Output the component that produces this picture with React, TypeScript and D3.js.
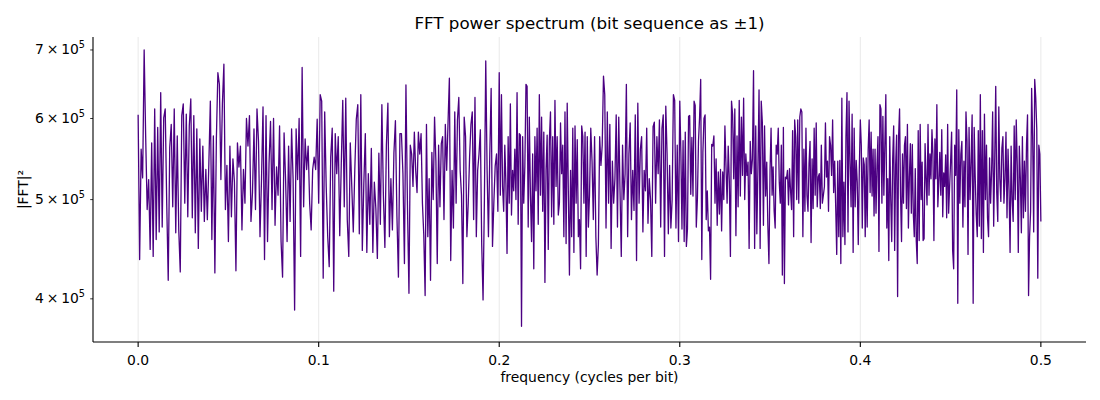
import React from 'react';
import * as d3 from 'd3';

// |FFT|^2 values in units of 1e5, one array per 0.05 band of frequency
const band00 = [6.05, 4.37, 5.60, 5.25, 7.00, 5.77, 4.89, 5.23, 4.47, 5.68, 4.40, 6.13, 4.57, 5.88, 4.65, 6.36, 4.70, 6.01, 6.13, 4.96, 4.17, 5.62, 5.92, 4.92, 6.13, 4.64, 5.77, 4.67, 4.25, 6.04, 6.20, 4.96, 6.06, 4.81, 5.90, 6.27, 4.80, 6.04, 4.64, 5.86, 4.48, 5.73, 4.87, 5.64, 4.76, 5.35, 4.78, 5.42, 6.24, 4.57, 5.77, 4.24, 5.73, 6.65, 6.48, 5.23, 6.20, 6.78, 4.89, 5.40];
const band05 = [4.55, 5.64, 4.81, 5.48, 5.20, 4.26, 5.68, 5.38, 5.64, 4.67, 5.35, 4.96, 6.00, 5.64, 6.04, 4.76, 5.08, 5.86, 4.89, 6.13, 5.70, 4.60, 5.23, 6.16, 4.37, 6.04, 4.55, 5.42, 5.96, 4.89, 6.00, 4.72, 5.38, 5.05, 5.90, 4.55, 4.20, 5.81, 5.23, 4.55, 5.64, 4.76, 5.86, 5.23, 3.90, 5.86, 5.23, 6.00, 4.40, 6.73, 4.92, 5.73, 5.35, 5.64, 4.96, 4.67, 5.35, 5.50, 5.35, 5.99];
const band10 = [4.96, 6.33, 6.24, 4.19, 6.09, 5.15, 4.60, 4.30, 5.50, 5.87, 4.07, 5.80, 5.30, 5.76, 4.61, 5.40, 6.25, 4.92, 6.28, 4.78, 4.40, 5.68, 5.15, 4.65, 5.34, 5.99, 6.19, 4.63, 6.33, 4.46, 5.18, 5.80, 4.44, 5.30, 4.73, 5.61, 4.44, 5.20, 4.90, 4.38, 5.55, 4.73, 6.19, 5.05, 4.49, 5.65, 6.21, 4.60, 5.24, 4.67, 5.55, 5.97, 4.82, 4.20, 5.80, 5.80, 5.30, 4.33, 6.47, 4.94];
const band15 = [4.05, 5.65, 5.54, 5.15, 5.82, 5.34, 5.08, 5.82, 5.54, 5.80, 4.96, 4.62, 4.03, 5.92, 4.60, 5.24, 4.17, 5.56, 5.00, 6.02, 5.45, 4.33, 5.65, 4.92, 5.67, 5.76, 4.78, 5.92, 5.34, 5.94, 6.57, 4.36, 5.34, 4.69, 6.09, 4.96, 5.98, 6.29, 5.34, 5.05, 4.14, 6.02, 5.76, 4.60, 4.96, 5.50, 5.92, 6.09, 4.78, 6.29, 4.60, 5.34, 5.54, 5.85, 4.52, 3.99, 5.00, 6.83, 5.34, 4.60, 5.54, 6.42, 4.50, 4.96, 5.39, 5.54, 4.87];
const band20 = [6.65, 5.05, 6.33, 5.15, 4.87, 5.65, 5.18, 4.43, 5.76, 4.96, 6.20, 4.83, 5.34, 5.10, 5.60, 5.00, 6.36, 4.73, 5.80, 5.78, 3.76, 5.76, 4.96, 5.39, 6.48, 6.45, 4.70, 6.02, 5.05, 4.55, 5.54, 4.28, 5.76, 5.10, 5.87, 4.73, 6.33, 5.05, 6.02, 4.87, 5.82, 4.15, 5.34, 5.78, 4.47, 5.72, 6.09, 4.81, 5.76, 4.73, 6.25, 5.15, 5.76, 4.83, 4.96, 5.94, 5.30, 5.65, 4.60, 6.09, 4.53, 6.21, 5.10, 4.22, 5.34, 4.60, 5.87, 4.44, 5.90, 4.96, 5.72, 4.60, 4.78, 4.28, 5.90, 5.76, 4.96, 5.82, 4.40, 5.76, 4.70];
const band25 = [5.05, 5.87, 5.45, 4.78, 5.76, 4.60, 4.22, 4.52, 5.76, 5.40, 5.65, 6.60, 6.33, 4.69, 6.09, 4.96, 5.92, 4.48, 5.45, 4.96, 5.24, 6.05, 4.70, 6.02, 5.10, 4.40, 5.65, 5.00, 5.30, 6.48, 4.60, 5.54, 5.94, 4.78, 5.34, 4.88, 6.05, 4.36, 6.21, 4.96, 5.60, 5.76, 4.65, 5.34, 5.10, 5.87, 4.74, 5.24, 5.00, 4.40, 5.89, 5.95, 4.96, 5.76, 5.30, 5.98, 4.70, 5.87, 6.05, 4.40, 6.17, 5.55, 4.63, 5.40, 4.69, 5.00, 6.33, 6.25, 4.69, 5.65, 4.55];
const band30 = [6.24, 5.56, 4.68, 5.71, 4.55, 5.82, 4.50, 4.68, 6.03, 6.04, 5.06, 5.75, 5.04, 6.24, 6.18, 4.70, 5.00, 5.70, 6.02, 6.55, 4.37, 5.56, 6.00, 6.05, 4.78, 5.10, 4.66, 4.70, 4.18, 5.66, 5.64, 5.77, 4.96, 5.48, 4.72, 5.32, 4.84, 5.35, 4.66, 5.32, 5.00, 5.90, 5.38, 4.96, 5.64, 5.22, 4.40, 6.24, 6.05, 5.24, 6.13, 4.61, 5.77, 4.92, 6.25, 5.04, 6.02, 5.28, 6.28, 5.00, 5.54, 5.28, 5.44, 4.48, 5.70, 5.30, 5.48, 6.68, 4.48, 5.90, 4.63, 5.38, 6.40, 4.48, 6.24, 5.95, 4.72, 5.90, 5.04, 5.44, 4.72, 4.33];
const band35 = [5.34, 5.87, 5.05, 5.38, 4.87, 4.69, 5.65, 5.54, 5.87, 5.20, 4.96, 5.65, 4.22, 5.88, 4.14, 5.26, 5.24, 5.34, 4.94, 5.36, 5.10, 4.89, 5.84, 4.60, 5.98, 5.76, 5.00, 5.98, 4.96, 6.02, 6.13, 6.09, 4.60, 5.60, 4.87, 5.87, 5.05, 4.87, 5.42, 5.70, 4.54, 5.48, 4.90, 5.87, 5.05, 5.94, 4.92, 5.26, 5.30, 4.90, 5.65, 4.96, 5.05, 5.15, 5.94, 5.26, 5.45, 4.87, 5.76, 5.65, 5.28, 5.98, 5.08, 5.45, 4.92, 4.42, 5.45, 4.60, 5.46, 4.33, 6.28, 4.60, 5.20, 4.52, 5.76, 6.36, 4.65, 6.24, 5.45, 4.92, 6.06, 4.44, 5.87, 4.92, 5.46, 5.20, 4.52, 5.34];
const band40 = [5.98, 5.65, 4.69, 5.49, 5.41, 4.60, 5.49, 4.70, 5.60, 5.98, 5.08, 5.82, 5.04, 5.60, 4.82, 5.60, 4.85, 5.40, 5.76, 4.45, 6.19, 6.13, 4.96, 6.03, 5.05, 5.66, 6.33, 4.69, 5.24, 4.36, 5.76, 5.00, 4.55, 5.48, 5.90, 4.46, 5.40, 5.78, 4.02, 5.76, 6.13, 5.04, 4.55, 5.54, 4.96, 5.65, 5.76, 4.90, 5.92, 4.69, 5.26, 5.67, 4.85, 5.66, 4.85, 4.60, 5.36, 4.56, 4.33, 5.84, 4.56, 5.92, 5.00, 5.44, 4.56, 4.58, 5.67, 5.24, 4.94, 5.92, 5.05, 5.54, 5.24, 5.85, 5.54, 4.56, 5.73, 5.24, 6.19, 4.92, 5.20, 5.56, 5.05, 5.85, 4.81, 5.31, 5.15, 5.53, 4.80, 5.92, 4.85, 5.15];
const band45 = [5.44, 5.82, 4.46, 4.28, 5.65, 5.28, 6.40, 3.96, 5.85, 4.96, 5.54, 5.70, 4.70, 5.45, 4.92, 6.09, 5.70, 4.42, 5.88, 5.00, 5.45, 6.05, 3.96, 5.88, 5.26, 4.83, 4.60, 5.84, 4.71, 6.33, 4.58, 5.84, 4.44, 6.06, 5.00, 5.65, 4.80, 4.60, 5.49, 4.96, 5.34, 6.09, 4.71, 5.45, 6.45, 5.08, 4.76, 6.16, 5.24, 4.98, 5.61, 5.76, 4.96, 5.24, 5.82, 4.80, 5.60, 5.11, 4.44, 5.64, 5.00, 4.76, 5.90, 5.00, 5.98, 5.40, 4.44, 5.64, 5.25, 4.64, 5.76, 4.80, 5.45, 4.87, 5.65, 6.05, 4.03, 4.60, 4.87, 6.42, 5.76, 4.65, 6.55, 6.29, 5.86, 4.19, 5.65, 5.54, 4.76];

const bands = [band00, band05, band10, band15, band20, band25, band30, band35, band40, band45];
const bandWidth = 0.05;

const xTicks = [0, 0.1, 0.2, 0.3, 0.4, 0.5];
const yTicks = [4, 5, 6, 7];

type Pt = { f: number; p: number };

const points: Pt[] = [];
bands.forEach((band, k) => {
  const last = k === bands.length - 1;
  band.forEach((v, j) => {
    const f = k * bandWidth + (bandWidth * j) / (last ? band.length - 1 : band.length);
    points.push({ f, p: v * 1e5 });
  });
});

const W = 1100;
const H = 400;
const left = 93;
const right = 1086;
const top = 37;
const bottom = 342;
const font = 'DejaVu Sans, sans-serif';

export default function App() {
  const x = d3.scaleLinear().domain([-0.025, 0.525]).range([left, right]);
  const y = d3.scaleLog().domain([3.63e5, 7.207e5]).range([bottom, top]);

  const line = d3.line<Pt>()
    .x(d => x(d.f))
    .y(d => y(d.p));

  return (
    <svg width={W} height={H} style={{ position: 'absolute', left: 0, top: 0, background: '#fff' }} fontFamily={font}>
      {/* vertical grid */}
      {xTicks.map(t => (
        <line key={'g' + t} x1={x(t)} x2={x(t)} y1={top} y2={bottom} stroke="#b0b0b0" strokeOpacity={0.35} strokeWidth={0.8} />
      ))}

      <path d={line(points) ?? ''} fill="none" stroke="#4b0082" strokeWidth={1.3} strokeLinejoin="round" />

      {/* spines */}
      <line x1={left} x2={left} y1={top} y2={bottom} stroke="#000" strokeWidth={1.1} />
      <line x1={left} x2={right} y1={bottom} y2={bottom} stroke="#000" strokeWidth={1.1} />

      {/* x axis */}
      {xTicks.map(t => (
        <g key={'x' + t}>
          <line x1={x(t)} x2={x(t)} y1={bottom} y2={bottom + 4.9} stroke="#000" strokeWidth={1.1} />
          <text x={x(t)} y={bottom + 22.5} textAnchor="middle" fontSize={13.9} fill="#000">{t.toFixed(1)}</text>
        </g>
      ))}
      <text x={(left + right) / 2} y={382} textAnchor="middle" fontSize={13.9} fill="#000">frequency (cycles per bit)</text>

      {/* y axis, log minor ticks labelled */}
      {yTicks.map(t => {
        const yy = y(t * 1e5);
        return (
          <g key={'y' + t}>
            <line x1={left - 2.8} x2={left} y1={yy} y2={yy} stroke="#000" strokeWidth={0.8} />
            <text x={left - 8} y={yy + 4.5} textAnchor="end" fontSize={13.9} fill="#000">
              {t}{'\u2009×\u200910'}
              <tspan fontSize={9.7} dy={-6}>5</tspan>
            </text>
          </g>
        );
      })}
      <text transform={`translate(28, ${(top + bottom) / 2}) rotate(-90)`} textAnchor="middle" fontSize={13.9} fill="#000">|FFT|²</text>

      <text x={(left + right) / 2} y={29} textAnchor="middle" fontSize={16.7} fill="#000">FFT power spectrum (bit sequence as ±1)</text>
    </svg>
  );
}
